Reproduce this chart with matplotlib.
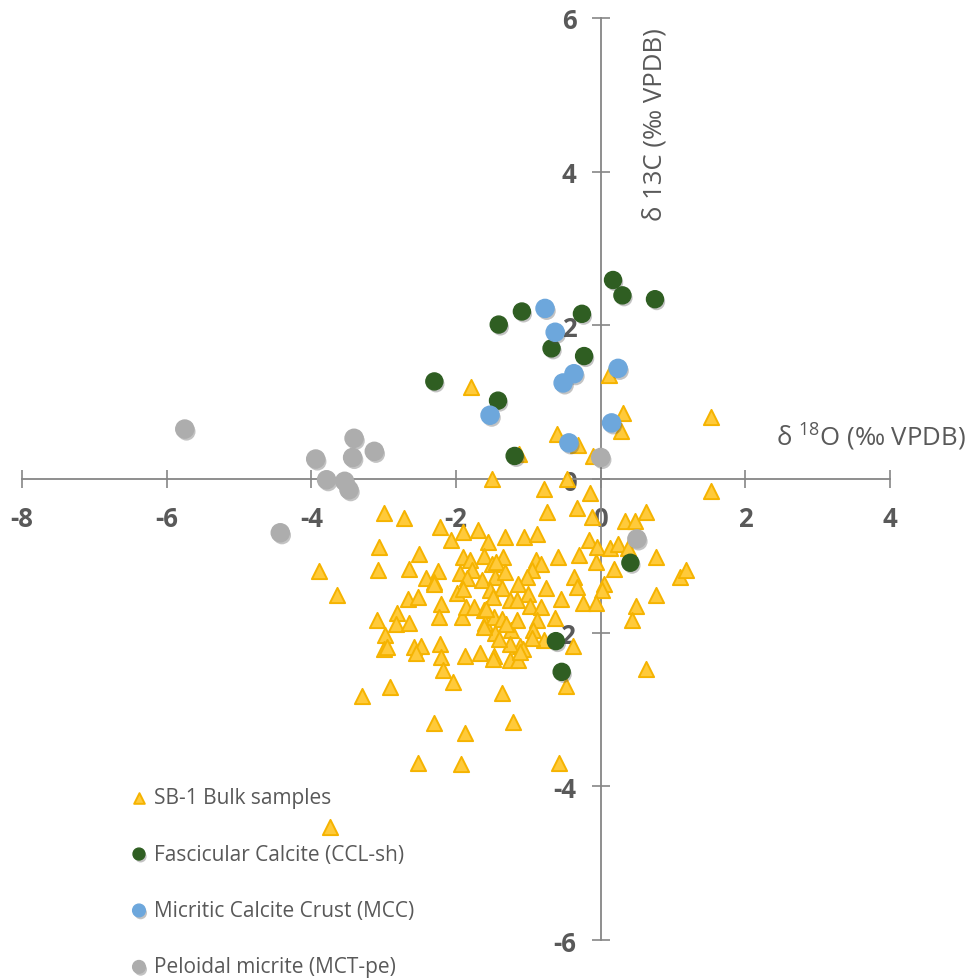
import matplotlib
matplotlib.use("Agg")
import matplotlib.pyplot as plt
import matplotlib.patheffects as pe

plt.rcParams["font.family"] = ["Open Sans", "DejaVu Sans"]
plt.rcParams["mathtext.default"] = "regular"
plt.rcParams["axes.unicode_minus"] = False

# d18O / d13C pairs (per mil VPDB) for each sample group
bulk_d18o = [
    -1.79, 0.11, 0.31, 0.28, 1.52, -0.60, -0.32, -1.13, -0.10, -1.51, -0.47, -0.79, -0.15, 1.53,
    -3.00, -2.72, -2.22, -1.90, -1.70, -2.07, -1.56, -3.07, -2.51, -1.90, -1.62, -1.51, -3.90, -3.08,
    -2.65, -2.25, -2.42, -2.31, -1.95, -1.81, -1.78, -1.85, -1.64, -1.46, -3.65, -2.67, -2.53, -1.99,
    -1.90, -2.21, -2.82, -3.09, -2.83, -2.65, -2.23, -1.92, -1.86, -1.75, -1.62, -1.60, -1.48, -2.98,
    -2.99, -2.95, -2.58, -2.49, -2.56, -2.22, -2.21, -2.18, -2.04, -1.87, -1.67, -1.48, -1.46, -2.91,
    -0.74, -0.33, -0.12, -1.32, -1.06, -0.88, -0.16, -0.05, -0.59, -0.30, -1.35, -1.45, -0.89, -0.82,
    -0.95, -1.32, -0.07, -1.02, -1.14, -0.37, -0.33, 0.04, 0.02, -0.75, -1.37, -1.53, -1.49, -1.00,
    -0.55, -0.25, -0.06, -1.26, -1.16,
    0.33, 0.48, 0.63, 0.13, 0.24, 0.38, 0.77, 0.18, 1.09, 1.18, 0.77, 0.49, 0.43, -0.63, -0.39, -0.79,
    0.62, -0.48,
    -0.98, -0.82, -0.88, -1.24, -0.93, -0.95, -1.12, -1.08, -1.25, -1.49, -1.25, -1.14, -1.16, -1.37,
    -1.31, -1.41, -1.58, -1.37,
    -3.30, -2.31, -1.87, -1.21, -2.52, -1.93, -0.57, -3.74, -1.12, -2.30, -1.61,
]
bulk_d13c = [
    1.20, 1.36, 0.86, 0.63, 0.81, 0.59, 0.44, 0.33, 0.30, 0.00, 0.00, -0.13, -0.18, -0.16,
    -0.44, -0.51, -0.62, -0.69, -0.66, -0.80, -0.82, -0.88, -0.98, -1.01, -1.00, -1.11, -1.20, -1.18,
    -1.17, -1.20, -1.29, -1.34, -1.22, -1.06, -1.19, -1.29, -1.32, -1.28, -1.51, -1.56, -1.53, -1.49,
    -1.43, -1.63, -1.74, -1.84, -1.89, -1.87, -1.80, -1.79, -1.67, -1.66, -1.70, -1.87, -1.80, -2.03,
    -2.21, -2.18, -2.18, -2.17, -2.26, -2.15, -2.32, -2.49, -2.64, -2.30, -2.27, -2.30, -2.00, -2.71,
    -0.43, -0.38, -0.50, -0.75, -0.76, -0.72, -0.79, -0.89, -1.02, -0.99, -1.02, -1.08, -1.06, -1.11,
    -1.19, -1.21, -1.08, -1.28, -1.37, -1.27, -1.41, -1.37, -1.44, -1.42, -1.42, -1.45, -1.54, -1.50,
    -1.56, -1.61, -1.61, -1.58, -1.58,
    -0.55, -0.55, -0.43, -0.90, -0.85, -0.90, -1.02, -1.17, -1.27, -1.18, -1.51, -1.65, -1.83, -1.81,
    -2.17, -2.10, -2.47, -2.69,
    -1.65, -1.67, -1.84, -1.97, -1.97, -2.07, -2.17, -2.21, -2.15, -2.34, -2.36, -2.36, -1.84, -1.82,
    -1.89, -2.08, -1.69, -2.78,
    -2.83, -3.18, -3.31, -3.16, -3.69, -3.71, -3.69, -4.53, -2.25, -1.37, -1.93,
]

ccl_d18o = [0.17, 0.30, 0.75, -1.09, -1.41, -0.26, -0.68, -0.23, -1.42, -1.19, -2.30, 0.41, -0.62, -0.54]
ccl_d13c = [2.59, 2.39, 2.34, 2.18, 2.01, 2.15, 1.70, 1.60, 1.02, 0.30, 1.27, -1.09, -2.11, -2.51]

mcc_d18o = [-0.77, -0.63, -0.37, -0.52, 0.24, -1.53, 0.15, -0.44]
mcc_d13c = [2.22, 1.91, 1.37, 1.25, 1.44, 0.83, 0.73, 0.47]

pel_d18o = [-5.75, -3.94, -3.79, -3.41, -3.43, -3.13, -3.54, -3.48, -4.43, 0.00, 0.50]
pel_d13c = [0.65, 0.26, -0.01, 0.53, 0.28, 0.36, -0.03, -0.14, -0.70, 0.28, -0.78]

AXIS_GREY = "#868686"
TEXT_GREY = "#595959"

fig = plt.figure(figsize=(9.75, 9.79), dpi=100)
ax = fig.add_axes([0.0226, 0.0388, 0.8903, 0.9418])

shadow = [pe.SimplePatchShadow(offset=(1.2, -1.8), shadow_rgbFace="#555555", alpha=0.35), pe.Normal()]

ax.scatter(bulk_d18o, bulk_d13c, marker="^", s=120, facecolor="#FFCA3A", edgecolor="#F5B300",
           linewidths=1.4, zorder=3, label="SB-1 Bulk samples")
ax.scatter(ccl_d18o, ccl_d13c, marker="o", s=150, color="#2F5E22", zorder=4,
           path_effects=shadow, label="Fascicular Calcite (CCL-sh)")
ax.scatter(mcc_d18o, mcc_d13c, marker="o", s=170, color="#6DA7DC", zorder=4,
           path_effects=shadow, label="Micritic Calcite Crust (MCC)")
ax.scatter(pel_d18o, pel_d13c, marker="o", s=170, color="#ADADAD", zorder=4,
           path_effects=shadow, label="Peloidal micrite (MCT-pe)")

ax.set_xlim(-8, 4)
ax.set_ylim(-6, 6)
ax.set_xticks(range(-8, 5, 2))
ax.set_yticks(range(-6, 7, 2))

for side in ("top", "right"):
    ax.spines[side].set_visible(False)
for side in ("left", "bottom"):
    ax.spines[side].set_position(("data", 0))
    ax.spines[side].set_color(AXIS_GREY)
    ax.spines[side].set_linewidth(1.3)

ax.tick_params(direction="inout", length=13, width=1.2, color=AXIS_GREY,
               labelcolor=TEXT_GREY, labelsize=18.5)
ax.tick_params(axis="x", pad=12)
ax.tick_params(axis="y", pad=11)
for lab in ax.get_xticklabels() + ax.get_yticklabels():
    lab.set_fontweight("bold")

ax.text(0.75, 4.62, "δ 13C (‰ VPDB)", rotation=90, ha="center", va="center",
        fontsize=18.5, color=TEXT_GREY, clip_on=False)
ax.text(3.74, 0.55, r"δ $^{18}$O (‰ VPDB)", ha="center", va="center",
        fontsize=18.5, color=TEXT_GREY, clip_on=False)

fig.legend(loc="upper left", bbox_to_anchor=(0.134, 0.195), frameon=False, fontsize=15,
           labelcolor=TEXT_GREY, markerscale=0.7, scatterpoints=1, handlelength=0.8,
           handletextpad=0.3, labelspacing=1.7, borderpad=0, borderaxespad=0)

fig.savefig("out.png", dpi=100)
